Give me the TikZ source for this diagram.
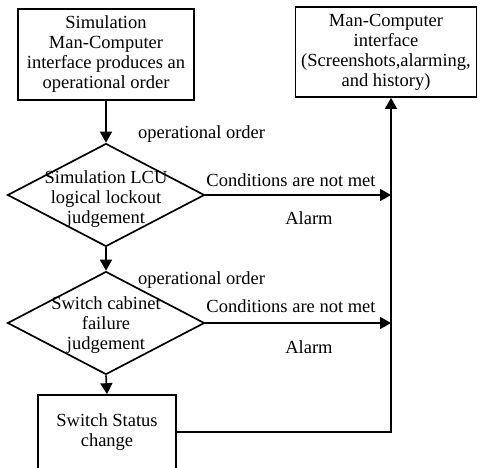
\documentclass[tikz,border=0pt]{standalone}
\usepackage{fontspec}
\setmainfont{Liberation Serif}
\usetikzlibrary{positioning,calc,shapes.geometric,arrows.meta}
\tikzset{
box/.style={
  draw,
  line width=1.7pt,
  rectangle,
  align=center,
  inner sep=0pt
  },
decision/.style={
  draw,
  line width=1.7pt,
  diamond,
  inner sep=0pt,
  minimum width=197pt,
  minimum height=103pt
  },
flow/.style={
  line width=1.7pt,
  -{Triangle[length=11pt,width=12pt]}
  },
txt/.style={align=center, inner sep=0pt},
}

\begin{document}
\begin{tikzpicture}[x=1pt,y=-1pt,font=\fontsize{18.5}{20}\selectfont]
    \useasboundingbox (0,0) rectangle (482,467);

    \node [box, minimum width=176pt, minimum height=91pt] (order) at (106,54.5)
        {Simulation\\Man-Computer\\interface produces an\\operational order};
    \node [box, minimum width=181pt, minimum height=90pt] (hmi) at (386,52)
        {Man-Computer\\interface\\(Screenshots,alarming,\\and history)};

    \node [decision] (lcu) at (106,195) {};
    \node [txt] (lcutext) at (106,199) {Simulation LCU\\logical lockout\\judgement};
    \node [decision] (cab) at (106,323) {};
    \node [txt] (cabtext) at (106,325) {Switch cabinet\\failure\\judgement};

    \node [box, minimum width=138pt, minimum height=74pt] (status) at (107,432)
        {Switch Status\\change};

    \coordinate (bus) at (391,432);

    % labels
    \node [txt, anchor=west] (ord1) at (138,134) {operational order};
    \node [txt, anchor=west] (ord2) at (138,280) {operational order};
    \node [txt] (nmet1) at (291,180) {Conditions are not met};
    \node [txt] (nmet2) at (291,306) {Conditions are not met};
    \node [txt] (alarm1) at (309,218) {Alarm};
    \node [txt] (alarm2) at (309,347) {Alarm};

    % connectors
    \draw [flow] (order.south) -- (lcu.north);
    \draw [flow] (lcu.south) -- (cab.north);
    \draw [flow] (cab.south) -- (status.north);
    \draw [flow] (lcu.east) -- (lcu.east -| bus);
    \draw [flow] (cab.east) -- (cab.east -| bus);
    \draw [flow] (status.east |- bus) -- (bus) -- (bus |- hmi.south);

\end{tikzpicture}
\end{document}
